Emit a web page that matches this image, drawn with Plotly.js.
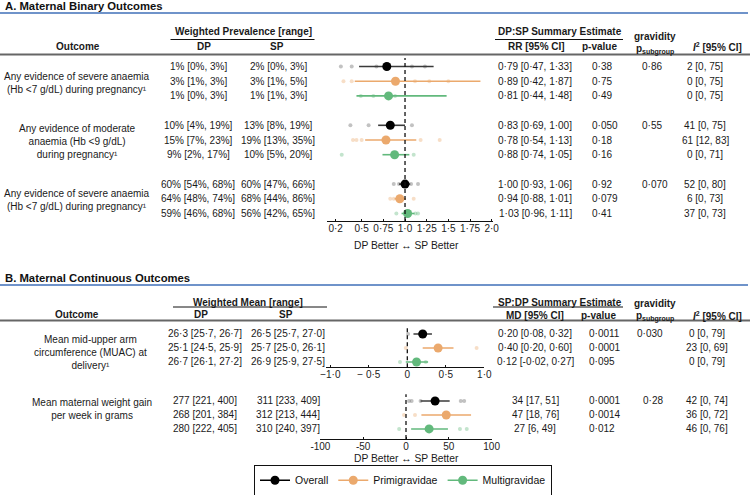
<!DOCTYPE html>
<html><head><meta charset="utf-8">
<script src="https://cdn.plot.ly/plotly-3.0.1.min.js"></script>
<style>html,body{margin:0;padding:0;background:#fff}#chart{width:750px;height:495px}</style>
</head><body><div id="chart"></div>
<script>
// ---------- DATA ----------
const groups = ["Overall", "Primigravidae", "Multigravidae"];

// Panel A: binary outcomes (3 outcomes x 3 groups)
const outcomesA = [
  "Any evidence of severe anaemia<br>(Hb <7 g/dL) during pregnancy¹",
  "Any evidence of moderate<br>anaemia (Hb <9 g/dL)<br>during pregnancy¹",
  "Any evidence of severe anaemia<br>(Hb <7 g/dL) during pregnancy¹"
];
const dpA = ["1% [0%, 3%]","3% [1%, 3%]","1% [0%, 3%]","10% [4%, 19%]","15% [7%, 23%]","9% [2%, 17%]","60% [54%, 68%]","64% [48%, 74%]","59% [46%, 68%]"];
const spA = ["2% [0%, 3%]","3% [1%, 5%]","1% [1%, 3%]","13% [8%, 19%]","19% [13%, 35%]","10% [5%, 20%]","60% [47%, 66%]","68% [44%, 86%]","56% [42%, 65%]"];
const rrA   = [0.79, 0.89, 0.81, 0.83, 0.78, 0.88, 1.00, 0.94, 1.03];
const rrLoA = [0.47, 0.42, 0.44, 0.69, 0.54, 0.74, 0.93, 0.88, 0.96];
const rrHiA = [1.33, 1.87, 1.48, 1.00, 1.13, 1.05, 1.06, 1.01, 1.11];
const pA    = ["0·38","0·75","0·49","0·050","0·18","0·16","0·92","0·079","0·41"];
const pSubA = ["0·86","","","0·55","","","0·070","",""];
const i2A   = ["2 [0, 75]","0 [0, 75]","0 [0, 75]","41 [0, 75]","61 [12, 83]","0 [0, 71]","52 [0, 80]","6 [0, 73]","37 [0, 73]"];
// individual study estimates (faint dots)
const studyA = [
  [0.26, 0.385, 0.67, 1.08, 1.23],
  [0.29, 0.385, 1.115, 1.28, 1.5],
  [0.49, 0.635, 0.885],
  [0.37, 0.58, 1.08],
  [0.40, 0.44, 0.50, 1.18, 1.40],
  [0.27, 1.10],
  [0.87, 0.93, 1.07, 1.15],
  [0.83, 0.87, 1.10],
  [0.90, 1.12, 1.15]
];
const ticksA = [0.2, 0.5, 0.75, 1.0, 1.25, 1.5, 1.75, 2.0];
const tickTextA = ["0·2","0·5","0·75","1·0","1·25","1·5","1·75","2·0"];

// Panel B: continuous outcomes
const outcomesB = [
  "Mean mid-upper arm<br>circumference (MUAC) at<br>delivery¹",
  "Mean maternal weight gain<br>per week in grams"
];
const dpB = ["26·3 [25·7, 26·7]","25·1 [24·5, 25·9]","26·7 [26·1, 27·2]","277 [221, 400]","268 [201, 384]","280 [222, 405]"];
const spB = ["26·5 [25·7, 27·0]","25·7 [25·0, 26·1]","26·9 [25·9, 27·5]","311 [233, 409]","312 [213, 444]","310 [240, 397]"];
const mdB   = [0.20, 0.40, 0.12, 34, 47, 27];
const mdLoB = [0.08, 0.20, -0.02, 17, 18, 6];
const mdHiB = [0.32, 0.60, 0.27, 51, 76, 49];
const pB    = ["0·0011","0·0001","0·095","0·0001","0·0014","0·012"];
const pSubB = ["0·030","","","0·28","",""];
const i2B   = ["0 [0, 79]","23 [0, 69]","0 [0, 79]","42 [0, 74]","36 [0, 72]","46 [0, 76]"];
const studyB = [
  [0.01],
  [-0.02, 0.90],
  [-0.095, 0.24],
  [3.5, 6.6, 17, 64, 68],
  [-2.3, 10.5],
  [-8, 63, 71]
];
const ticksMuac = [-1, -0.5, 0, 0.5, 1];
const tickTextMuac = ["−1·0","− 0·5","0","0·5","1·0"];
const ticksWt = [-100, -50, 0, 50, 100];
const tickTextWt = ["-100","-50","0","50","100"];

// ---------- STYLE ----------
const W = 750, H = 495;
const FONT = "Liberation Sans, Arial, Helvetica, sans-serif";
const colors = ["#000000", "#EBA96D", "#62B97C"];
const ciColors = ["#3a3a3a", "#EBA96D", "#62B97C"];
const faint = ["rgba(110,110,110,0.42)", "rgba(235,169,109,0.38)", "rgba(98,185,124,0.38)"];
const px = v => v / W, py = v => 1 - v / H;

// row positions (row index units on each forest y-axis)
const rowA = [0, 1, 2, 4, 5, 6, 8, 9, 10];
const rowB = [0, 1, 2, 0, 1, 2];
const yRefB = ["y2","y2","y2","y3","y3","y3"];

const fmt = (v, d) => v.toFixed(d).replace('.', '·');

const traces = [];
function addForest(xa, ya, est, lo, hi, study, rows, idxs, g, legend) {
  const fx = [], fy = [];
  idxs.forEach(i => study[i].forEach(v => { fx.push(v); fy.push(rows[i]); }));
  traces.push({x: fx, y: fy, xaxis: xa, yaxis: ya, type: 'scatter', mode: 'markers',
    marker: {size: 4, color: faint[g]}, hoverinfo: 'skip', showlegend: false});
  const cx = [], cy = [];
  idxs.forEach(i => { cx.push(lo[i], hi[i], null); cy.push(rows[i], rows[i], null); });
  traces.push({x: cx, y: cy, xaxis: xa, yaxis: ya, type: 'scatter', mode: 'lines',
    line: {color: ciColors[g], width: 1.6}, hoverinfo: 'skip', showlegend: false});
  const mx = [], my = [];
  idxs.forEach((i, k) => { if (k) { mx.push(null); my.push(null); } mx.push(est[i]); my.push(rows[i]); });
  traces.push({x: mx, y: my, xaxis: xa, yaxis: ya, type: 'scatter', mode: 'lines+markers',
    connectgaps: false, name: groups[g], legendgroup: groups[g], showlegend: legend,
    marker: {size: 9, color: colors[g]}, line: {color: colors[g], width: 1.6}});
}
for (let g = 0; g < 3; g++) {
  addForest('x', 'y', rrA, rrLoA, rrHiA, studyA, rowA, [g, g + 3, g + 6], g, true);
  addForest('x2', 'y2', mdB, mdLoB, mdHiB, studyB, rowB, [g], g, false);
  addForest('x3', 'y3', mdB, mdLoB, mdHiB, studyB, rowB, [g + 3], g, false);
}

// ---------- ANNOTATIONS ----------
const ann = [];
function T(text, x, y, opt = {}) {
  ann.push(Object.assign({text: text, x: px(x), xref: 'paper', y: (opt.yref && opt.yref !== 'paper') ? y : py(y),
    yref: 'paper', showarrow: false, xanchor: 'center', yanchor: 'middle',
    font: {family: FONT, size: 10, color: '#1a1a1a'}}, opt));
}
const bold = s => "<b>" + s + "</b>";
const titleFont = {family: FONT, size: 11.3, color: '#111'};
const betterFont = {family: FONT, size: 10.3, color: '#1a1a1a'};
// Panel A headers
T(bold("A. Maternal Binary Outcomes"), 3, 6, {xanchor: 'left', font: titleFont});
T(bold("Weighted Prevalence [range]"), 243, 31.5);
T(bold("Outcome"), 78, 47);
T(bold("DP"), 204, 47);
T(bold("SP"), 277, 47);
T(bold("DP:SP Summary Estimate"), 560, 31.5);
T(bold("RR [95% CI]"), 536, 47);
T(bold("p-value"), 599, 47);
T(bold("gravidity"), 655, 36);
T(bold("p<sub>subgroup</sub>"), 655, 50);
T(bold("<i>I</i><sup>2</sup> [95% CI]"), 717, 47);
// Panel A body
outcomesA.forEach((t, j) => T(t, 77, rowA[3 * j + 1] + 0.1, {yref: 'y'}));
for (let i = 0; i < 9; i++) {
  const o = {yref: 'y'};
  T(dpA[i], 198, rowA[i], o);
  T(spA[i], 278, rowA[i], o);
  T(fmt(rrA[i], 2) + " [" + fmt(rrLoA[i], 2) + ", " + fmt(rrHiA[i], 2) + "]", 535, rowA[i], o);
  T(pA[i], 590, rowA[i], {yref: 'y', xanchor: 'left'});
  if (pSubA[i]) T(pSubA[i], 640, rowA[i], {yref: 'y', xanchor: 'left'});
  T(i2A[i], 705, rowA[i], o);
}
T("DP Better ↔ SP Better", 406, 245, {font: betterFont});

// Panel B headers
T(bold("B. Maternal Continuous Outcomes"), 3, 278, {xanchor: 'left', font: titleFont});
T(bold("Weighted Mean [range]"), 248, 302);
T(bold("Outcome"), 77, 314);
T(bold("DP"), 201, 314);
T(bold("SP"), 286, 314);
T(bold("SP:DP Summary Estimate"), 560, 302.5);
T(bold("MD [95% CI]"), 535, 315);
T(bold("p-value"), 598, 315);
T(bold("gravidity"), 655, 303.5);
T(bold("p<sub>subgroup</sub>"), 655, 316);
T(bold("<i>I</i><sup>2</sup> [95% CI]"), 717, 316);
// Panel B body
T(outcomesB[0], 90, 1.3, {yref: 'y2'});
T(outcomesB[1], 92, 0.55, {yref: 'y3'});
for (let i = 0; i < 6; i++) {
  const o = {yref: yRefB[i]};
  const d = i < 3 ? 2 : 0;
  T(dpB[i], 205, rowB[i], o);
  T(spB[i], 288, rowB[i], o);
  T(fmt(mdB[i], d) + " [" + fmt(mdLoB[i], d) + ", " + fmt(mdHiB[i], d) + "]", 535, rowB[i], o);
  T(pB[i], 587, rowB[i], {yref: yRefB[i], xanchor: 'left'});
  if (pSubB[i]) T(pSubB[i], 665, rowB[i], {yref: yRefB[i], xanchor: 'right'});
  T(i2B[i], 707, rowB[i], o);
}
T("DP Better ↔ SP Better", 406, 458.5, {font: betterFont});

// ---------- SHAPES ----------
const hline = (x0, x1, y, color, width) => ({type: 'line', xref: 'paper', yref: 'paper',
  x0: px(x0), x1: px(x1), y0: py(y), y1: py(y), line: {color: color, width: width}});
const dash = {color: '#111', width: 1.3, dash: '4px,3px'};
const shapes = [
  hline(0, 748, 13, '#3f6fb8', 1.5),
  hline(170.5, 314.5, 39.5, '#111', 1),
  hline(495, 623, 39.5, '#111', 1),
  hline(0, 750, 54.5, '#666', 2),
  hline(0, 748, 285, '#3f6fb8', 1.5),
  hline(173, 327, 307, '#111', 1),
  hline(493, 623, 307, '#111', 1),
  hline(0, 750, 320.5, '#666', 2),
  {type: 'line', xref: 'x', yref: 'y domain', x0: 1, x1: 1, y0: 0, y1: 1, line: dash},
  {type: 'line', xref: 'x2', yref: 'y2 domain', x0: 0, x1: 0, y0: 0, y1: 1, line: dash},
  {type: 'line', xref: 'x3', yref: 'y3 domain', x0: 0, x1: 0, y0: 0, y1: 0.95, line: dash}
];

// ---------- AXES ----------
const xBase = {showgrid: false, zeroline: false, showline: true, linecolor: '#111', linewidth: 1,
  ticks: 'inside', ticklen: 2, tickcolor: '#111', ticklabelstandoff: -2,
  tickfont: {family: FONT, size: 10, color: '#222'}, fixedrange: true};
const yBase = {showgrid: false, zeroline: false, showline: false, showticklabels: false, ticks: '', fixedrange: true};

const layout = {
  width: W, height: H, margin: {l: 0, r: 0, t: 0, b: 0, autoexpand: false}, paper_bgcolor: '#fff', plot_bgcolor: 'rgba(0,0,0,0)',
  font: {family: FONT, size: 10, color: '#1a1a1a'},
  xaxis: Object.assign({}, xBase, {domain: [px(327), px(493)], range: [0.1, 2.015], anchor: 'y', tickvals: ticksA, ticktext: tickTextA}),
  yaxis: Object.assign({}, yBase, {domain: [py(221), py(58)], range: [10.51, -0.578], anchor: 'x'}),
  xaxis2: Object.assign({}, xBase, {domain: [px(326), px(484.3)], range: [-1.056, 1.0], anchor: 'y2', tickvals: ticksMuac, ticktext: tickTextMuac}),
  yaxis2: Object.assign({}, yBase, {domain: [py(367.3), py(326)], range: [2.379, -0.571], anchor: 'x2'}),
  xaxis3: Object.assign({}, xBase, {domain: [px(320.4), px(491.6)], range: [-100, 100], anchor: 'y3', tickvals: ticksWt, ticktext: tickTextWt}),
  yaxis3: Object.assign({}, yBase, {domain: [py(439), py(392)], range: [2.72, -0.643], anchor: 'x3'}),
  showlegend: true,
  legend: {orientation: 'h', x: px(403), xanchor: 'center', y: py(495.8), yanchor: 'bottom',
    bordercolor: '#111', borderwidth: 1, bgcolor: 'rgba(0,0,0,0)', font: {family: FONT, size: 10.5, color: '#111'},
    itemwidth: 30, tracegroupgap: 0, traceorder: 'normal'},
  annotations: ann,
  shapes: shapes
};

Plotly.newPlot('chart', traces, layout, {staticPlot: true, displayModeBar: false});
</script></body></html>
